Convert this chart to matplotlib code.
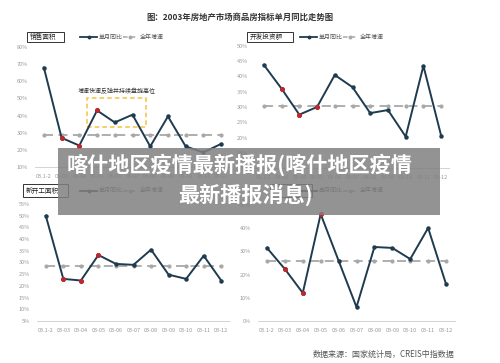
import matplotlib
matplotlib.use("Agg")
import matplotlib.pyplot as plt
from matplotlib.lines import Line2D
from matplotlib.patches import Rectangle

plt.rcParams['font.family'] = ['Noto Sans CJK SC', 'DejaVu Sans']

months = ['03.1-2', '03-03', '03-04', '03-05', '03-06', '03-07',
          '03-08', '03-09', '03-10', '03-11', '03-12']

# 单月同比 (%) per panel
sales_area = [68, 27, 22.5, 43, 36, 40.5, 22, 39.5, 22, 18.5, 23.5]
invest = [43.8, 36, 27.5, 30, 40.5, 36.5, 28, 29, 20.3, 43.5, 20.6]
new_start = [50, 23, 22.3, 33.2, 29.4, 29, 35.5, 24.8, 23, 32.9, 22.3]
panel4 = [31.5, 22.4, 12.1, 46.1, 26, 6, 31.9, 31.5, 26.7, 40.1, 15.9]

# 全年增速 (%)
year_rate = [28.5, 30.4, 28.7, 25.9]

panel_names = ['销售面积', '开发投资额', '新开工面积', '']
red_idx = [1, 2, 3]

# panel geometry (pixels): left, right, top, bottom, ylim, yticks
layout = [
    (35, 230, 47, 167, (10, 80), range(10, 81, 10)),
    (255, 450, 46, 168, (10, 50), range(10, 51, 5)),
    (37, 230, 204, 321, (5, 55), range(5, 56, 5)),
    (258, 455, 205, 321, (0, 50), range(0, 51, 10)),
]
# label boxes (pixels): x0, y0, x1, y1
boxes = [(27, 32, 64, 42), (247, 32, 293, 42), (23, 184, 68, 197), (270, 184, 312, 197)]
series = [sales_area, invest, new_start, panel4]

W, H = 500, 363
fig = plt.figure(figsize=(5, 3.63), dpi=100)

navy = '#1f3b4f'
red = '#c0272d'
gray = '#a8a8a8'

for k in range(4):
    l, r, t, b, ylim, yt = layout[k]
    ax = fig.add_axes([l / W, 1 - b / H, (r - l) / W, (b - t) / H])
    x = list(range(len(months)))
    vals = series[k]
    ax.plot(x, [year_rate[k]] * len(x), color=gray, lw=1.3, ls=(0, (5, 3)),
            marker='o', ms=2, zorder=2)
    ax.plot(x, vals, color=navy, lw=1.4, marker='o', ms=2.2, zorder=3)
    ax.plot([x[i] for i in red_idx], [vals[i] for i in red_idx], ls='none',
            marker='o', ms=2.6, color=red, zorder=4)
    ax.set_xlim(-0.5, 10.5)
    ax.set_ylim(*ylim)
    ax.set_yticks(list(yt))
    ax.set_yticklabels([f'{v}%' for v in yt])
    ax.set_xticks(x)
    ax.set_xticklabels(months)
    ax.tick_params(length=0, labelsize=4, colors='#999999', pad=5)
    for s in ['top', 'right', 'left']:
        ax.spines[s].set_visible(False)
    ax.spines['bottom'].set_color('#cccccc')
    ax.spines['bottom'].set_linestyle((0, (1, 1)))
    ax.spines['bottom'].set_linewidth(0.6)

    if k == 0:
        rect = Rectangle((2.45, 33.5), 3.3, 17, fill=False, ec='#f3c240',
                         lw=1.1, ls=(0, (3, 2)), zorder=1)
        ax.add_patch(rect)
        ax.text(4.1, 54.5, '增速快速反弹并持续盘旋高位', fontsize=4.3,
                color='#333333', ha='center', va='center')

    # label box
    bx0, by0, bx1, by1 = boxes[k]
    fig.add_artist(Rectangle((bx0 / W, 1 - by1 / H), (bx1 - bx0) / W, (by1 - by0) / H,
                             transform=fig.transFigure, fc='white', ec='#333333', lw=0.7))
    if panel_names[k]:
        fig.text((bx0 + 3) / W, 1 - (by0 + by1) / 2 / H, panel_names[k], fontsize=4.8,
                 color='#222222', ha='left', va='center')

    # legend
    ly = (by0 + by1) / 2
    sx = boxes[0][2] + 16 if k in (0, 2) else boxes[1][2] + 7
    if k == 3:
        sx = boxes[1][2] + 7
    fig.add_artist(Line2D([sx / W, (sx + 17) / W], [1 - ly / H] * 2, color=navy, lw=1.3))
    fig.add_artist(Line2D([(sx + 8.5) / W], [1 - ly / H], color=navy, marker='o', ms=1.8))
    fig.text((sx + 19) / W, 1 - ly / H, '单月同比', fontsize=4.3, color='#555555', va='center')
    dx = sx + 43
    fig.add_artist(Line2D([dx / W, (dx + 15) / W], [1 - ly / H] * 2, color=gray,
                          lw=1.1, ls=(0, (3, 2))))
    fig.add_artist(Line2D([(dx + 7) / W], [1 - ly / H], color=gray, marker='o', ms=1.8))
    fig.text((dx + 17) / W, 1 - ly / H, '全年增速', fontsize=4.3, color='#555555', va='center')

fig.text(240 / W, 1 - 17 / H, '图：2003年房地产市场商品房指标单月同比走势图',
         fontsize=6, fontweight='bold', color='#333333', ha='center', va='center')
fig.text(313 / W, 1 - 354 / H, '数据来源：国家统计局，CREIS中指数据',
         fontsize=5.8, color='#555555', ha='left', va='center')

# overlay banner
fig.add_artist(Rectangle((58 / W, 1 - 215 / H), 382 / W, 67 / H,
                         transform=fig.transFigure, fc='#808080', ec='none',
                         alpha=0.85, zorder=10))
fig.text(240 / W, 1 - 165 / H, '喀什地区疫情最新播报(喀什地区疫情', fontsize=15.2,
         fontweight='bold', color='white', ha='center', va='center', zorder=11)
fig.text(245 / W, 1 - 195 / H, '最新播报消息)', fontsize=15.2,
         fontweight='bold', color='white', ha='center', va='center', zorder=11)

fig.savefig('out.png', dpi=100)
